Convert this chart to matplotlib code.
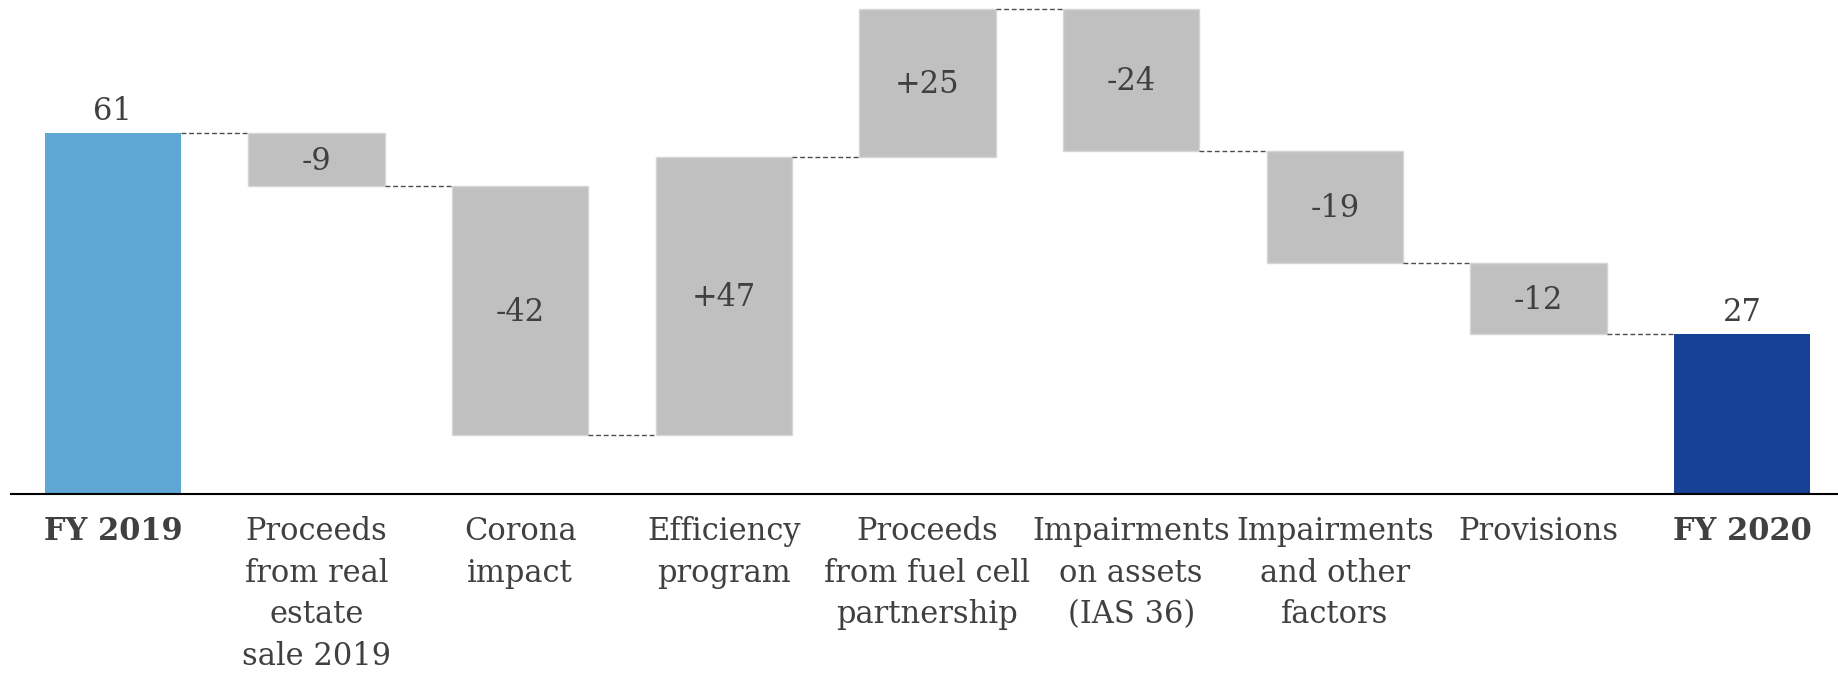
import matplotlib
matplotlib.use("Agg")
import matplotlib.pyplot as plt

# Bridge from FY 2019 to FY 2020
categories = [
    "FY 2019",
    "Proceeds\nfrom real\nestate\nsale 2019",
    "Corona\nimpact",
    "Efficiency\nprogram",
    "Proceeds\nfrom fuel cell\npartnership",
    "Impairments\non assets\n(IAS 36)",
    "Impairments\nand other\nfactors",
    "Provisions",
    "FY 2020",
]
start_value = 61
changes = [-9, -42, 47, 25, -24, -19, -12]
end_value = 27

plt.rcParams["font.family"] = ["DejaVu Serif"]
text_color = "#404040"
start_color = "#5FA7D5"
end_color = "#164194"
step_color = "#C0C0C0"

fig = plt.figure(figsize=(18.38, 6.73), dpi=100)
ax = fig.add_axes([11 / 1838, (673 - 494) / 673, 1833 / 1838, 494 / 673])

width = 0.67
fs = 22

# Opening total
ax.bar(0, start_value, width=width, color=start_color, linewidth=0)
ax.text(0, start_value + 1.0, f"{start_value}", ha="center", va="bottom",
        fontsize=fs, color=text_color)

level = start_value
levels = [level]
for i, d in enumerate(changes, start=1):
    bottom = level if d >= 0 else level + d
    ax.bar(i, abs(d), bottom=bottom, width=width, color=step_color,
           edgecolor="#D6D6D6", linewidth=1.0)
    label = f"+{d}" if d > 0 else f"{d}"
    ax.text(i, bottom + abs(d) / 2 - 0.3, label, ha="center", va="center",
            fontsize=fs, color=text_color)
    level += d
    levels.append(level)

# Closing total
n = len(categories) - 1
ax.bar(n, end_value, width=width, color=end_color, linewidth=0)
ax.text(n, end_value + 1.0, f"{end_value}", ha="center", va="bottom",
        fontsize=fs, color=text_color)

# Dashed connectors between consecutive bars
for i, lv in enumerate(levels):
    ax.plot([i + width / 2, i + 1 - width / 2], [lv, lv], color="#4D4D4D",
            linewidth=1.0, linestyle=(0, (3.5, 2)))

ax.set_xlim(-0.5, n + 0.5)
ax.set_ylim(0, 83.5)
ax.set_xticks(range(len(categories)))
ax.set_xticklabels(categories, fontsize=fs, color=text_color, linespacing=1.44)
for t in ax.get_xticklabels():
    if t.get_text().startswith("FY"):
        t.set_fontweight("bold")
ax.tick_params(axis="x", length=0, pad=16)
ax.set_yticks([])
for s in ["top", "left", "right"]:
    ax.spines[s].set_visible(False)
ax.spines["bottom"].set_color("#000000")
ax.spines["bottom"].set_linewidth(1.5)

fig.savefig("out.png", dpi=100)
